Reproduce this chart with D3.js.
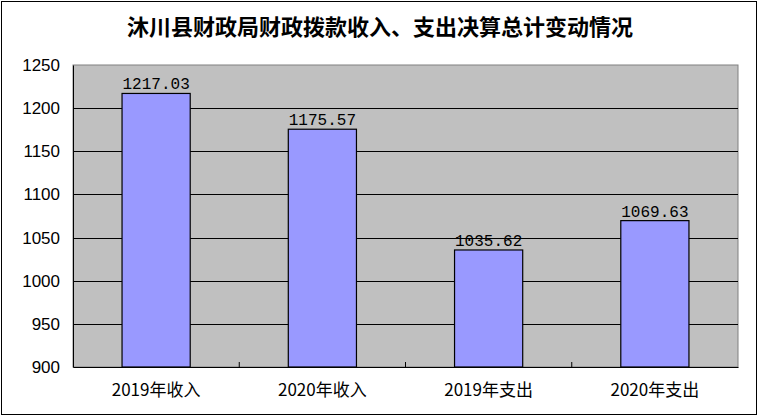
<!DOCTYPE html>
<html>
<head>
<meta charset="utf-8">
<script src="https://d3js.org/d3.v7.min.js"></script>
<style>
  body { margin: 0; background: #fff; }
  svg { display: block; }
</style>
</head>
<body>
<svg id="chart" width="759" height="417"></svg>
<script>
  const title = "沐川县财政局财政拨款收入、支出决算总计变动情况";
  const categories = ["2019年收入", "2020年收入", "2019年支出", "2020年支出"];
  const values = [1217.03, 1175.57, 1035.62, 1069.63];
  const yTicks = [900, 950, 1000, 1050, 1100, 1150, 1200, 1250];

  const margin = { top: 65, right: 21, bottom: 50, left: 73 };

  const svg = d3.select("#chart"),
    width = +svg.attr("width") - margin.left - margin.right,
    height = +svg.attr("height") - margin.top - margin.bottom;

  // outer frame
  svg.append("rect")
    .attr("x", 1.5).attr("y", 1.5)
    .attr("width", 755).attr("height", 413)
    .attr("fill", "#fff")
    .attr("stroke", "#000");

  svg.append("text")
    .attr("x", 380)
    .attr("y", 35)
    .attr("text-anchor", "middle")
    .style("font-family", "'Noto Sans CJK SC'")
    .style("font-weight", "bold")
    .style("font-size", "22px")
    .text(title);

  const g = svg.append("g").attr("transform", `translate(${margin.left},${margin.top})`);

  const x = d3.scaleBand().domain(categories).range([0, width]).paddingInner(0.59).paddingOuter(0.295);
  const xb = d3.scaleBand().domain(categories).range([0, width]);
  const y = d3.scaleLinear().domain([900, 1250]).range([height, 0]);

  // plot background
  g.append("rect")
    .attr("width", width).attr("height", height)
    .attr("fill", "#c0c0c0")
    .attr("stroke", "#808080");

  // gridlines
  g.append("g")
    .selectAll("line")
    .data(yTicks.slice(1, -1))
    .join("line")
    .attr("x1", 0).attr("x2", width)
    .attr("y1", d => Math.round(y(d)) + 0.5)
    .attr("y2", d => Math.round(y(d)) + 0.5)
    .attr("stroke", "#000");

  // y axis
  const yAxis = g.append("g")
    .call(d3.axisLeft(y).tickValues(yTicks).tickFormat(d3.format("d")).tickSize(0).tickPadding(13));
  yAxis.select(".domain").attr("stroke", "#000");
  yAxis.selectAll("text")
    .style("font-family", "'Liberation Sans'")
    .style("font-size", "17px")
    .attr("fill", "#000");

  // x axis
  const xAxis = g.append("g")
    .attr("transform", `translate(0,${height})`)
    .call(d3.axisBottom(x).tickSize(0).tickPadding(17));
  xAxis.select(".domain").attr("stroke", "#000");
  xAxis.selectAll("text")
    .style("font-family", "'Noto Sans CJK SC'")
    .style("font-size", "17px")
    .attr("fill", "#000");

  // category separator ticks (inside)
  g.append("g")
    .selectAll("line")
    .data(categories.slice(1))
    .join("line")
    .attr("x1", d => xb(d)).attr("x2", d => xb(d))
    .attr("y1", height).attr("y2", height - 5)
    .attr("stroke", "#000");

  // bars
  g.append("g")
    .selectAll("rect")
    .data(values)
    .join("rect")
    .attr("x", (d, i) => x(categories[i]))
    .attr("y", d => y(d))
    .attr("width", x.bandwidth())
    .attr("height", d => height - y(d))
    .attr("fill", "#9999ff")
    .attr("stroke", "#000")
    .attr("stroke-width", 1.2);

  // value labels
  g.append("g")
    .selectAll("text")
    .data(values)
    .join("text")
    .attr("x", (d, i) => x(categories[i]) + x.bandwidth() / 2)
    .attr("y", d => y(d) - 4)
    .attr("text-anchor", "middle")
    .style("font-family", "'Liberation Mono'")
    .style("font-size", "16px")
    .text(d => d.toFixed(2));
</script>
</body>
</html>
